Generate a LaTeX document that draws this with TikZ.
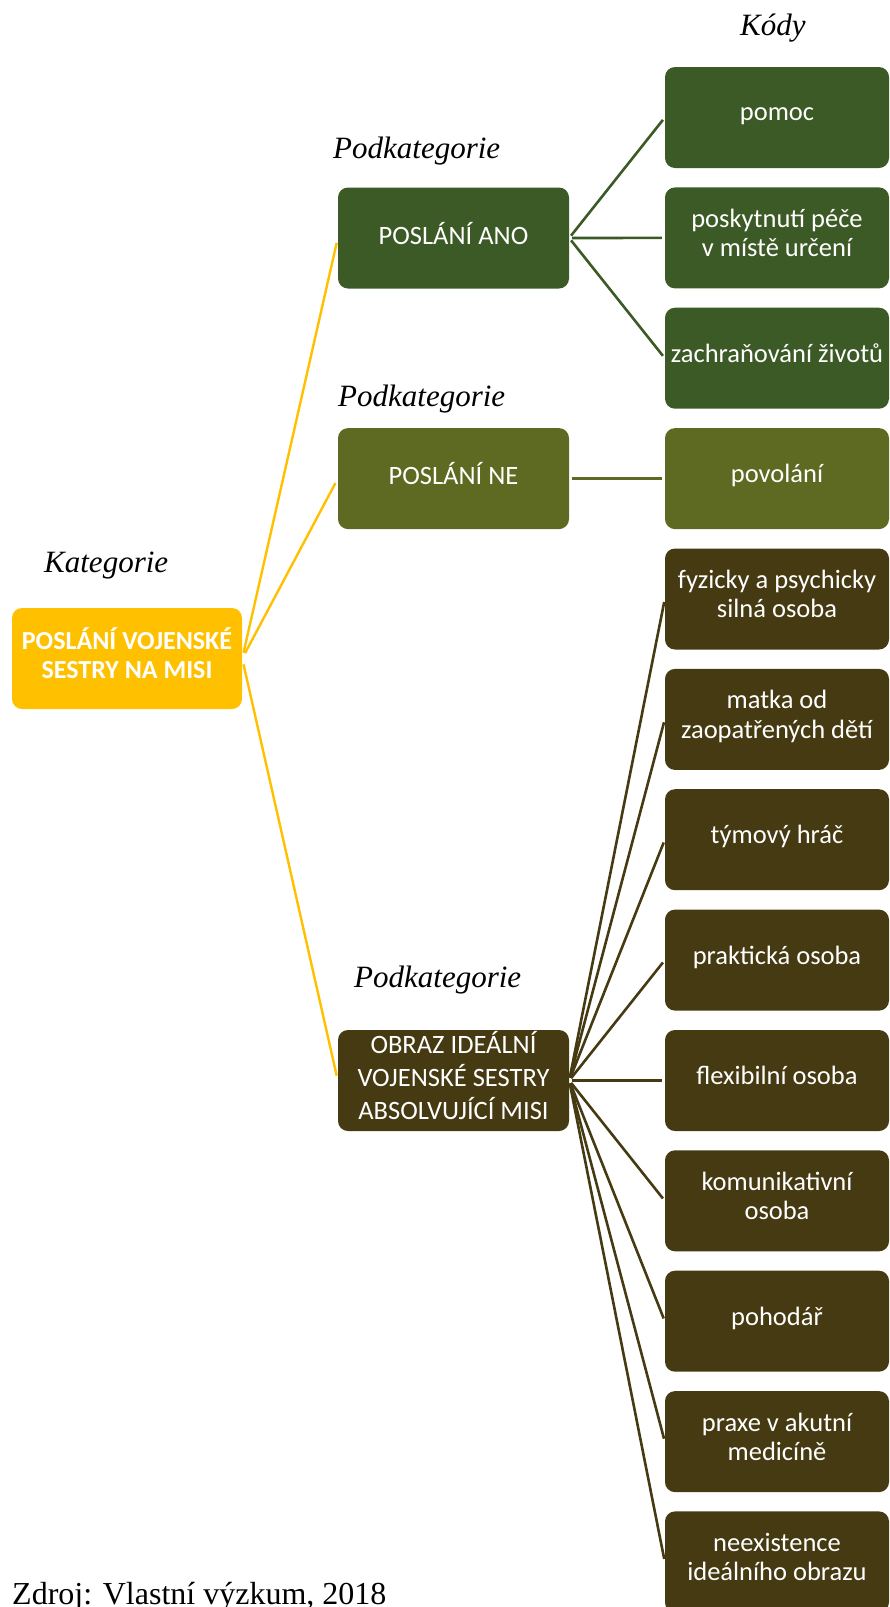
\documentclass[tikz,border=0pt]{standalone}
\usepackage{fontspec}
\setmainfont{Liberation Serif}
\newfontfamily\boxfont{Carlito}
\newcommand\bs{\rule[-10pt]{0pt}{26pt}}
\definecolor{cyel}{HTML}{FFC000}
\definecolor{cgreen}{HTML}{3C5A25}
\definecolor{colive}{HTML}{5E6A21}
\definecolor{cbrown}{HTML}{463A12}
\tikzset{
  box/.style={rounded corners=10pt, minimum height=101pt, inner sep=0pt,
    text=white, align=center, font=\boxfont\fontsize{26.5}{28}\selectfont},
  kid/.style={box, minimum width=224pt},
  par/.style={box, minimum width=231pt},
  lab/.style={inner sep=0pt, anchor=base west, font=\itshape\fontsize{31}{36}\selectfont},
  yline/.style={draw=cyel, line width=2.4pt, shorten <=6pt, shorten >=5pt},
  kline/.style={line width=2.6pt, shorten <=3pt, shorten >=3pt},
}
\begin{document}
\begin{tikzpicture}[x=1pt,y=-1pt]
\useasboundingbox (0,0) rectangle (890,1607);
\clip (0,0) rectangle (890,1607);
% labels
\node[lab] (lkody) at (740,35) {Kódy};
\node[lab] (lpod1) at (333,158) {Podkategorie};
\node[lab] (lpod2) at (338,406) {Podkategorie};
\node[lab] (lkat) at (44,572) {Kategorie};
\node[lab] (lpod3) at (354,987) {Podkategorie};
\node[inner sep=0pt, anchor=base west, font=\fontsize{32}{36}\selectfont] (zdroj) at (12,1604) {Zdroj: Vlastní výzkum, 2018};
% root
\node[box, minimum width=230pt, fill=cyel, font=\boxfont\bfseries\fontsize{26}{29}\selectfont] (root) at (127,658.5) {\bs POSLÁNÍ VOJENSKÉ\\\bs SESTRY NA MISI};
% parents
\node[par, fill=cgreen] (ano) at (453.5,238) {\bs POSLÁNÍ ANO};
\node[par, fill=colive] (ne) at (453.5,478.6) {\bs POSLÁNÍ NE};
\node[par, fill=cbrown] (obraz) at (453.5,1080.5) {\bs OBRAZ IDEÁLNÍ\\\bs VOJENSKÉ SESTRY\\\bs ABSOLVUJÍCÍ MISI};
% children
\node[kid, fill=cgreen] (c0) at (777,117.5) {\bs pomoc};
\node[kid, fill=cgreen] (c1) at (777,237.9) {\bs poskytnutí péče\\\bs v místě určení};
\node[kid, fill=cgreen] (c2) at (777,358.2) {\bs zachraňování životů};
\node[kid, fill=colive] (c3) at (777,478.6) {\bs povolání};
\node[kid, fill=cbrown] (c4) at (777,599) {\bs fyzicky a psychicky\\\bs silná osoba};
\node[kid, fill=cbrown] (c5) at (777,719.4) {\bs matka od\\\bs zaopatřených dětí};
\node[kid, fill=cbrown] (c6) at (777,839.7) {\bs týmový hráč};
\node[kid, fill=cbrown] (c7) at (777,960.1) {\bs praktická osoba};
\node[kid, fill=cbrown] (c8) at (777,1080.5) {\bs flexibilní osoba};
\node[kid, fill=cbrown] (c9) at (777,1200.8) {\bs komunikativní\\\bs osoba};
\node[kid, fill=cbrown] (c10) at (777,1321.2) {\bs pohodář};
\node[kid, fill=cbrown] (c11) at (777,1441.6) {\bs praxe v akutní\\\bs medicíně};
\node[kid, fill=cbrown] (c12) at (777,1561.9) {\bs neexistence\\\bs ideálního obrazu};
% connectors
\draw[yline] (root.east) -- (ano.west);
\draw[yline] (root.east) -- (ne.west);
\draw[yline] (root.east) -- (obraz.west);
\foreach \c in {c0,c1,c2} \draw[kline, draw=cgreen] (ano.east) -- (\c.west);
\draw[kline, draw=colive] (ne.east) -- (c3.west);
\foreach \c in {c4,c5,c6,c7,c8,c9,c10,c11,c12} \draw[kline, draw=cbrown] (obraz.east) -- (\c.west);
\end{tikzpicture}
\end{document}
